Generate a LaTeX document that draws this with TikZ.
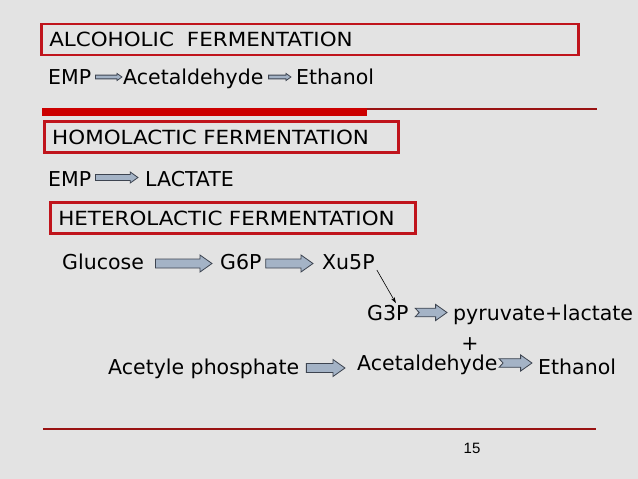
\documentclass[tikz,border=0pt]{standalone}
\usepackage{fontspec}
\setmainfont{DejaVu Sans}
\newfontfamily\headfont[FakeStretch=1.1]{DejaVu Sans}
\newfontfamily\pagefont{Liberation Sans}
\usetikzlibrary{calc,arrows.meta}
\usepackage{xcolor}
\definecolor{fundo} {rgb}{0.890196078,0.890196078,0.890196078}
\definecolor{caixa} {rgb}{0.752941176,0.078431373,0.109803922}
\definecolor{barra} {rgb}{0.800000000,0.000000000,0.000000000}
\definecolor{linha} {rgb}{0.600000000,0.070588235,0.070588235}
\definecolor{seta} {rgb}{0.643137255,0.701960784,0.776470588}
\definecolor{contorno} {rgb}{0.239215686,0.266666667,0.313725490}
% block arrow: [notch]{from}{to}{size}
\newcommand{\blockarrow}[4][0]{%
  \filldraw[fill=seta,draw=contorno,line width=0.8pt,line join=miter] let \p1=(#2), \p2=(#3) in
    (\x1,\y1+4.5pt*#4) -- (\x2-12pt*#4,\y1+4.5pt*#4) -- (\x2-12pt*#4,\y1+8.5pt*#4)
    -- (\x2,\y1) -- (\x2-12pt*#4,\y1-8.5pt*#4) -- (\x2-12pt*#4,\y1-4.5pt*#4)
    -- (\x1,\y1-4.5pt*#4) -- (\x1+#1pt,\y1) -- cycle;}
\tikzset{
  txt/.style={anchor=base west,inner sep=0pt,font=\fontsize{20.5}{24}\selectfont},
  headbox/.style={rectangle,draw=caixa,line width=2.5pt,inner xsep=8pt,inner ysep=0pt,
    minimum height=31pt,anchor=west,font=\headfont\fontsize{19.5}{22}\selectfont}
}

\begin{document}
\begin{tikzpicture}[x=1pt,y=-1pt]
                  \fill[fundo] (0,0) rectangle (638,479);
                  % alcoholic
                  \node[headbox,text width=521pt] (alch) at (40,39.5) {ALCOHOLIC~~FERMENTATION};
                  \node[txt] (emp1) at (48,84.5) {EMP};
                  \node[txt] (acet1) at (123,84.5) {Acetaldehyde};
                  \node[txt] (eth1) at (296,84.5) {Ethanol};
                  \blockarrow{[shift={(4pt,7.5pt)}]emp1.base east}{[xshift=-1pt]acet1.base west}{0.42}
                  \blockarrow{[shift={(5pt,7.5pt)}]acet1.base east}{[xshift=-5pt]eth1.base west}{0.42}
                  \draw[linha,line width=1.2pt] (42,109) -- (597,109);
                  \fill[barra] (42,108) rectangle (367,116);
                  % homolactic
                  \node[headbox,text width=338pt] (homo) at (43,137) {HOMOLACTIC FERMENTATION};
                  \node[txt] (emp2) at (48,186.5) {EMP};
                  \node[txt] (lact) at (145,186.5) {LACTATE};
                  \blockarrow{[shift={(4pt,9pt)}]emp2.base east}{[xshift=-7pt]lact.base west}{0.65}
                  % heterolactic
                  \node[headbox,text width=349pt] (hete) at (49,218) {HETEROLACTIC FERMENTATION};
                  \node[txt] (glu) at (62,269.5) {Glucose};
                  \node[txt] (g6p) at (220,269.5) {G6P};
                  \node[txt] (xu5p) at (322,269.5) {Xu5P};
                  \blockarrow{[shift={(11.5pt,6pt)}]glu.base east}{[xshift=-8pt]g6p.base west}{1}
                  \blockarrow{[shift={(4pt,6pt)}]g6p.base east}{[xshift=-9pt]xu5p.base west}{1}
                  \node[txt] (g3p) at (367,320.5) {G3P};
                  \node[txt] (pyr) at (453,320.5) {pyruvate+lactate};
                  \draw[-{Stealth[length=6pt,width=4pt]},line width=0.6pt] ([xshift=2pt]xu5p.south east) -- ([xshift=8pt,yshift=2pt]g3p.north);
                  \blockarrow[4]{[shift={(6.5pt,8pt)}]g3p.base east}{[xshift=-6pt]pyr.base west}{0.95}
                  \node[txt,anchor=center] (mais) at (470,344) {+};
                  \node[txt] (acph) at (108,374.5) {Acetyle phosphate};
                  \node[txt] (acet2) at (357,370.5) {Acetaldehyde};
                  \node[txt] (eth2) at (538,374.5) {Ethanol};
                  \blockarrow{[shift={(7pt,6.5pt)}]acph.base east}{[xshift=-12pt]acet2.base west}{1}
                  \blockarrow[4]{[shift={(1.5pt,7.5pt)}]acet2.base east}{[xshift=-6pt]eth2.base west}{0.95}
                  % foot
                  \draw[linha,line width=1.5pt] (43,429) -- (596,429);
                  \node[font=\pagefont\fontsize{15}{18}\selectfont] (pag) at (472,448) {15};
            \end{tikzpicture}
\end{document}
